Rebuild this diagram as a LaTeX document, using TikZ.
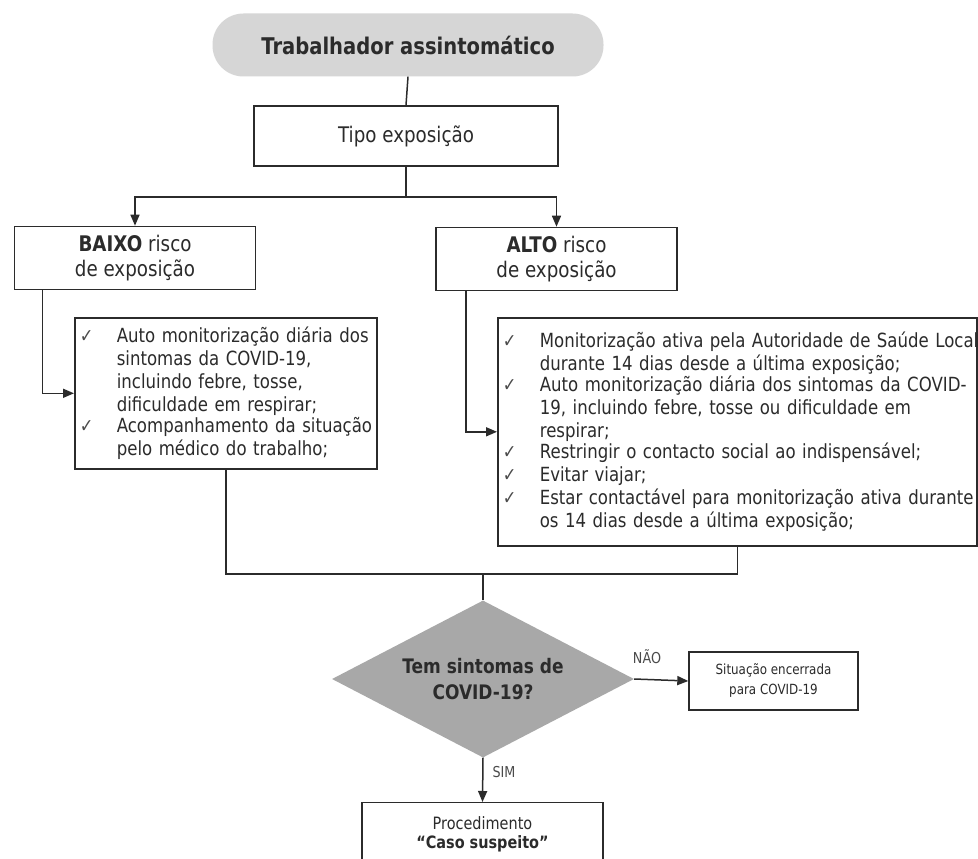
\documentclass[tikz,border=0pt]{standalone}
\usepackage{fontspec}
\setmainfont{DejaVu Sans}[FakeStretch=0.85]
\usetikzlibrary{shapes.geometric,arrows.meta,calc}
\definecolor{ink}{HTML}{2B2B2B}
\definecolor{pillgray}{HTML}{D6D6D6}
\definecolor{diagray}{HTML}{A8A8A8}
\newcommand{\chk}{\makebox[37pt][l]{\hspace{0pt}{\fontsize{19}{19}\selectfont\color{ink!85}✓}}}
\newcommand{\itemline}[1]{\noindent\chk\parbox[t]{\dimexpr\hsize+20pt\relax}{\raggedright #1}\par}
\begin{document}
\begin{tikzpicture}[x=1pt,y=-1pt,
  box/.style={draw=ink, line width=1.6pt, fill=white, inner sep=0pt, align=center,
    font=\fontsize{21.5}{25}\selectfont, text=ink},
  listbox/.style={draw=ink, line width=1.6pt, fill=white, inner xsep=5pt, inner ysep=0pt,
    align=left, font=\fontsize{19.5}{23}\selectfont, text=ink, anchor=north west},
  smallbox/.style={box, line width=1.4pt, font=\fontsize{14}{20}\selectfont},
  pill/.style={fill=pillgray, rounded corners=31pt, inner sep=0pt, text=ink,
    font=\fontsize{23}{26}\selectfont\bfseries},
  dia/.style={shape=diamond, fill=diagray, inner sep=0pt, aspect=1.92, align=center,
    text=ink, font=\fontsize{20}{26}\selectfont\bfseries},
  lbl/.style={text=ink!85, font=\fontsize{15}{16}\selectfont, inner sep=0pt},
  conn/.style={draw=ink, line width=1.5pt},
  arr/.style={conn, -{Triangle[length=11pt,width=9pt]}}
]
\clip (0,0) rectangle (978,859);
\fill[white] (0,0) rectangle (978,859);

\node[pill, minimum width=391pt, minimum height=63pt] (start) at (408,45) {Trabalhador assintomático};
\node[box, minimum width=304pt, minimum height=60pt] (tipo) at (406,136) {Tipo exposição};
\node[box, minimum width=241pt, minimum height=63pt] (baixo) at (135,258) {\textbf{BAIXO} risco\\de exposição};
\node[box, minimum width=241pt, minimum height=63pt] (alto) at (556.5,259) {\textbf{ALTO} risco\\de exposição};

\node[listbox, text width=292pt, minimum height=151pt] (lbox) at (74,317) {%
\itemline{Auto monitorização diária dos\\sintomas da COVID-19,\\incluindo febre, tosse,\\dificuldade em respirar;}%
\itemline{Acompanhamento da situação\\pelo médico do trabalho;}};

\node[listbox, text width=469pt, minimum height=228pt] (rbox) at (497,317) {%
\itemline{Monitorização ativa pela Autoridade de Saúde Local\\durante 14 dias desde a última exposição;}%
\itemline{Auto monitorização diária dos sintomas da COVID-\\19, incluindo febre, tosse ou dificuldade em\\respirar;}%
\itemline{Restringir o contacto social ao indispensável;}%
\itemline{Evitar viajar;}%
\itemline{Estar contactável para monitorização ativa durante\\os 14 dias desde a última exposição;}};

\node[dia, minimum width=302pt, minimum height=157pt] (dia) at (483,679) {Tem sintomas de\\COVID-19?};
\node[smallbox, minimum width=169pt, minimum height=58pt] (sit) at (773.5,681) {Situação encerrada\\para COVID-19};
\node[smallbox, font=\fontsize{17}{19}\selectfont, minimum width=241pt, minimum height=64pt, anchor=north] (proc) at (482.5,802) {Procedimento\\\textbf{“Caso suspeito”}};
\node[lbl] (nao) at (647,657) {NÃO};
\node[lbl] (sim) at (504,772) {SIM};

\coordinate (j1) at (406,197);
\coordinate (j2) at (483,574);
\draw[conn] (start.south) -- (tipo.north);
\draw[conn] (tipo.south) -- (j1);
\draw[arr] (j1) -| (baixo.north);
\draw[arr] (j1) -| (alto.north);
\draw[arr] ([xshift=29pt]baixo.south west) |- (lbox.west);
\draw[arr] ([xshift=31pt]alto.south west) |- (rbox.west);
\draw[conn] (lbox.south) |- (j2) -| (rbox.south);
\draw[conn] (j2) -- (dia.north);
\draw[arr] (dia.east) -- (sit.west);
\draw[arr] (dia.south) -- (proc.north);
\end{tikzpicture}
\end{document}
